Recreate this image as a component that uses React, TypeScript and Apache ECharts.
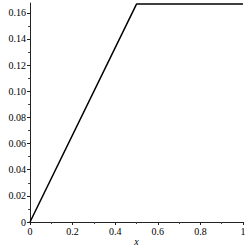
import React, { useEffect, useRef } from "react";
import * as echarts from "echarts";

const xValues = [0, 0.5, 1];
const yValues = [0, 1 / 6, 1 / 6];
const yTicks = [0, 0.02, 0.04, 0.06, 0.08, 0.1, 0.12, 0.14, 0.16];
const yLabels = ["0", "0.02", "0.04", "0.06", "0.08", "0.10", "0.12", "0.14", "0.16"];
const xTicks = [0, 0.2, 0.4, 0.6, 0.8, 1];
const xLabels = ["0", "0.2", "0.4", "0.6", "0.8", "1"];
const xName = "x";

export default function App() {
  const ref = useRef<HTMLDivElement>(null);
  useEffect(() => {
    if (!ref.current) return;
    const chart = echarts.init(ref.current, null, { renderer: "svg" });
    const font = "Liberation Serif";
    chart.setOption({
      animation: false,
      textStyle: { fontFamily: font },
      grid: { left: 30, right: 6, top: 3, bottom: 27, containLabel: false, outerBoundsMode: "none" },
      xAxis: {
        type: "value",
        min: 0,
        max: 1,
        interval: 0.2,
        name: xName,
        nameLocation: "middle",
        nameGap: 14,
        nameMoveOverlap: false,
        nameTextStyle: { fontFamily: font, fontStyle: "italic", fontSize: 10, color: "#000" },
        axisLine: { lineStyle: { color: "#222", width: 1 } },
        axisTick: { length: 3, lineStyle: { color: "#222" } },
        minorTick: { show: true, splitNumber: 2, length: 2, lineStyle: { color: "#444" } },
        splitLine: { show: false },
        axisLabel: {
          fontFamily: font,
          fontSize: 10,
          color: "#000",
          margin: 4,
          formatter: (v: number) => {
            const i = xTicks.findIndex((t) => Math.abs(t - v) < 1e-9);
            return i >= 0 ? xLabels[i] : "";
          },
        },
      },
      yAxis: {
        type: "value",
        min: 0,
        max: 0.1675,
        interval: 0.02,
        axisLine: { show: true, lineStyle: { color: "#222", width: 1 } },
        axisTick: { show: true, length: 3, lineStyle: { color: "#222" }, customValues: yTicks },
        minorTick: { show: true, splitNumber: 2, length: 2, lineStyle: { color: "#444" } },
        splitLine: { show: false },
        axisLabel: {
          fontFamily: font,
          fontSize: 10,
          color: "#000",
          margin: 4,
          customValues: yTicks,
          formatter: (v: number) => {
            const i = yTicks.findIndex((t) => Math.abs(t - v) < 1e-9);
            return i >= 0 ? yLabels[i] : "";
          },
        },
      },
      series: [
        {
          type: "line",
          data: xValues.map((x, i) => [x, yValues[i]]),
          showSymbol: false,
          lineStyle: { color: "#000", width: 1.5 },
          clip: false,
        },
      ],
    });
    return () => chart.dispose();
  }, []);
  return <div ref={ref} style={{ width: 249, height: 249, position: "absolute", left: 0, top: 0 }} />;
}
